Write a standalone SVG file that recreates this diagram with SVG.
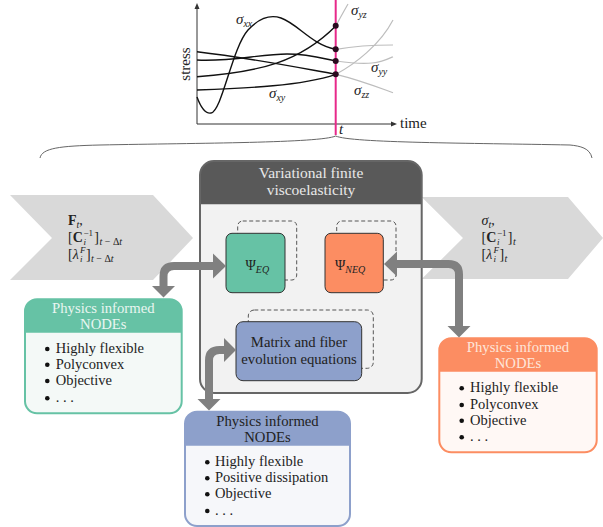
<svg xmlns="http://www.w3.org/2000/svg" width="603" height="527" viewBox="0 0 603 527">
<style>
text{font-family:"Liberation Serif","Times New Roman",serif;fill:#222}
.lbl{font-size:15px}
.sig{font-size:15px;font-style:italic}
.it{font-style:italic}
.sub{font-size:10px}
.ss{font-size:9px}
.hdr{font-size:14.7px;text-anchor:middle}
.bul{font-size:14.5px}
.crv{fill:none;stroke:#111;stroke-width:1.4}
.gry{fill:none;stroke:#bdbdbd;stroke-width:1.2}
.dash{fill:none;stroke:#555;stroke-width:1;stroke-dasharray:4,2.5}
.node{stroke:#333;stroke-width:1}
.arr{fill:none;stroke:#808080;stroke-width:8}
.ah{fill:#808080}
.dot{fill:#2a0a1e}
.math{font-size:14px}
</style>

<g id="plot">
  <line x1="197" y1="124" x2="197" y2="7" stroke="#333" stroke-width="1"/>
  <polygon points="197,3 194.5,9 199.5,9" fill="#333"/>
  <line x1="197" y1="124" x2="393" y2="124" stroke="#333" stroke-width="1"/>
  <polygon points="397,124 391,121.5 391,126.5" fill="#333"/>
  <text class="lbl" x="400" y="128">time</text>
  <text class="lbl" text-anchor="middle" transform="translate(189.5,64) rotate(-90)">stress</text>
  <path class="gry" d="M336,25.7 C340,18 344,11 348,4"/>
  <path class="gry" d="M336,49.3 C355,46 375,45 393,45"/>
  <path class="gry" d="M336,61 C350,63 362,64 372,63 C382,62 388,59 393,56.7"/>
  <path class="gry" d="M336,74.3 C355,64 380,45 393,20"/>
  <path class="gry" d="M336,74.3 C360,80 380,88 393,92.7"/>
  <path class="crv" d="M197,97 C201,108 205,114 211,113 C222,111 232,48 248,30 C260,17 272,15 281,18 C298,24 312,45 336,49.3"/>
  <path class="crv" d="M197,51.7 C250,58 290,66 336,74.3"/>
  <path class="crv" d="M197,60 C230,62 260,54 287,54 C310,54 325,59 336,61"/>
  <path class="crv" d="M197,76.7 C260,72 300,62 336,25.7"/>
  <path class="crv" d="M197,90 C250,88 300,86 336,74.3"/>
  <line x1="335.7" y1="0" x2="335.7" y2="135" stroke="#e7298a" stroke-width="2"/>
  <circle class="dot" cx="335.7" cy="25.7" r="3"/>
  <circle class="dot" cx="335.7" cy="49.3" r="3"/>
  <circle class="dot" cx="335.7" cy="61" r="3"/>
  <circle class="dot" cx="335.7" cy="74.3" r="3"/>
  <text class="sig" x="236" y="24">σ<tspan class="sub" dy="2.5">xx</tspan></text>
  <text class="sig" x="351" y="15">σ<tspan class="sub" dy="2.5">yz</tspan></text>
  <text class="sig" x="371" y="72">σ<tspan class="sub" dy="2.5">yy</tspan></text>
  <text class="sig" x="354" y="95">σ<tspan class="sub" dy="2.5">zz</tspan></text>
  <text class="sig" x="269" y="98">σ<tspan class="sub" dy="2.5">xy</tspan></text>
  <text class="sig" x="339" y="134">t</text>
  <path d="M40,158 C42,148 60,146 100,145 C200,143 320,143 335.7,136 C351,143 470,143 570,145 C580,146 590,148 592,158" fill="none" stroke="#666" stroke-width="1"/>
</g>

<g id="input">
  <polygon points="10,195 153,195 193,238 153,280 10,280 52,238" fill="#d9d9d9"/>
  <text class="math" x="68" y="224.5"><tspan font-weight="bold">F</tspan><tspan class="it sub" dy="3">t</tspan><tspan dy="-3">,</tspan></text>
  <text class="math" x="68" y="241.5">[<tspan font-weight="bold">C</tspan><tspan class="ss" x="83.5" y="236">−1</tspan><tspan class="ss it" x="83.5" y="244.5">i</tspan><tspan x="94.3" y="241.5">]</tspan><tspan class="sub it" x="99.5" y="244.5">t<tspan font-style="normal"> − Δ</tspan>t</tspan></text>
  <text class="math" x="68" y="258.5">[<tspan class="it">λ</tspan><tspan class="ss it" x="80" y="253">F</tspan><tspan class="ss it" x="80" y="261.5">i</tspan><tspan x="86" y="258.5">]</tspan><tspan class="sub it" x="91" y="261.5">t<tspan font-style="normal"> − Δ</tspan>t</tspan></text>
</g>

<g id="output">
  <polygon points="421.7,197 568,197 603,238 568,279 421.7,279 463,238" fill="#d9d9d9"/>
  <text class="math it" x="481.5" y="224.5">σ<tspan class="sub" dy="3">t</tspan><tspan font-style="normal" dy="-3">,</tspan></text>
  <text class="math" x="481.5" y="241.5">[<tspan font-weight="bold">C</tspan><tspan class="ss" x="497" y="236">−1</tspan><tspan class="ss it" x="497" y="244.5">i</tspan><tspan x="507.8" y="241.5">]</tspan><tspan class="sub it" x="513" y="244.5">t</tspan></text>
  <text class="math" x="481.5" y="258.5">[<tspan class="it">λ</tspan><tspan class="ss it" x="493.5" y="253">F</tspan><tspan class="ss it" x="493.5" y="261.5">i</tspan><tspan x="499.5" y="258.5">]</tspan><tspan class="sub it" x="504.5" y="261.5">t</tspan></text>
</g>

<g id="framework">
  <rect x="200" y="161" width="221.7" height="232" rx="14" fill="#f2f2f2"/>
  <path d="M200,204.3 V175 A14,14 0 0 1 214,161 H407.7 A14,14 0 0 1 421.7,175 V204.3 Z" fill="#595959"/>
  <rect x="200" y="161" width="221.7" height="232" rx="14" fill="none" stroke="#666" stroke-width="2"/>
  <text class="hdr" x="311" y="177.5" style="fill:#e8e8e8;font-size:15.5px">Variational finite</text>
  <text class="hdr" x="311" y="194.5" style="fill:#e8e8e8;font-size:15.5px">viscoelasticity</text>
</g>

<g id="psi-eq">
  <rect class="dash" x="237.7" y="221" width="59" height="59" rx="5"/>
  <rect class="node" x="226" y="233.3" width="59" height="59.4" rx="6" fill="#66c2a5"/>
  <text class="math" x="245.5" y="270">Ψ<tspan class="it sub" dy="3">EQ</tspan></text>
</g>

<g id="psi-neq">
  <rect class="dash" x="336.7" y="221" width="59.3" height="59" rx="5"/>
  <rect class="node" x="325" y="233.3" width="58.3" height="59.4" rx="6" fill="#fc8d62"/>
  <text class="math" x="335" y="270">Ψ<tspan class="it sub" dy="3">NEQ</tspan></text>
</g>

<g id="evolution">
  <rect class="dash" x="248.3" y="310" width="125" height="58.3" rx="6"/>
  <rect class="node" x="236" y="321.7" width="125.7" height="59" rx="7" fill="#8da0cb"/>
  <text class="hdr" x="299" y="346.5">Matrix and fiber</text>
  <text class="hdr" x="299" y="363.5">evolution equations</text>
</g>

<g id="node-eq">
  <rect x="25" y="299.3" width="156.7" height="114" rx="12" fill="#f4f9f7"/>
  <path d="M25,332.7 V311.3 A12,12 0 0 1 37,299.3 H169.7 A12,12 0 0 1 181.7,311.3 V332.7 Z" fill="#66c2a5"/>
  <rect x="25" y="299.3" width="156.7" height="114" rx="12" fill="none" stroke="#66c2a5" stroke-width="2"/>
  <text class="hdr" x="103.3" y="313" style="fill:#eaf6f1">Physics informed</text>
  <text class="hdr" x="103.3" y="329" style="fill:#eaf6f1">NODEs</text>
  <circle cx="47.3" cy="349" r="2.3" fill="#111"/>
  <circle cx="47.3" cy="364.7" r="2.3" fill="#111"/>
  <circle cx="47.3" cy="381" r="2.3" fill="#111"/>
  <circle cx="47.3" cy="398.3" r="2.3" fill="#111"/>
  <text class="bul" x="55.7" y="353">Highly flexible</text>
  <text class="bul" x="55.7" y="368.5">Polyconvex</text>
  <text class="bul" x="55.7" y="385">Objective</text>
  <text class="bul" x="55.7" y="401.5">. . .</text>
</g>

<g id="node-evo">
  <rect x="185" y="411.7" width="165" height="115" rx="12" fill="#f6f7fa"/>
  <path d="M185,445.7 V423.7 A12,12 0 0 1 197,411.7 H338 A12,12 0 0 1 350,423.7 V445.7 Z" fill="#8da0cb"/>
  <rect x="185" y="411.7" width="165" height="114.3" rx="12" fill="none" stroke="#8da0cb" stroke-width="2"/>
  <text class="hdr" x="267.5" y="425.5">Physics informed</text>
  <text class="hdr" x="267.5" y="442">NODEs</text>
  <circle cx="207.3" cy="462.3" r="2.3" fill="#111"/>
  <circle cx="207.3" cy="478.3" r="2.3" fill="#111"/>
  <circle cx="207.3" cy="494.3" r="2.3" fill="#111"/>
  <circle cx="207.3" cy="511" r="2.3" fill="#111"/>
  <text class="bul" x="215" y="466">Highly flexible</text>
  <text class="bul" x="215" y="482">Positive dissipation</text>
  <text class="bul" x="215" y="498">Objective</text>
  <text class="bul" x="215" y="514.5">. . .</text>
</g>

<g id="node-neq">
  <rect x="439.3" y="338.3" width="157.4" height="114" rx="12" fill="#fff8f5"/>
  <path d="M439.3,371.7 V350.3 A12,12 0 0 1 451.3,338.3 H584.7 A12,12 0 0 1 596.7,350.3 V371.7 Z" fill="#fc8d62"/>
  <rect x="439.3" y="338.3" width="157.4" height="114" rx="12" fill="none" stroke="#fc8d62" stroke-width="2"/>
  <text class="hdr" x="518" y="352" style="fill:#fee6da">Physics informed</text>
  <text class="hdr" x="518" y="368" style="fill:#fee6da">NODEs</text>
  <circle cx="461.7" cy="388.3" r="2.3" fill="#111"/>
  <circle cx="461.7" cy="405" r="2.3" fill="#111"/>
  <circle cx="461.7" cy="420.7" r="2.3" fill="#111"/>
  <circle cx="461.7" cy="437.3" r="2.3" fill="#111"/>
  <text class="bul" x="470" y="392">Highly flexible</text>
  <text class="bul" x="470" y="408.5">Polyconvex</text>
  <text class="bul" x="470" y="424.5">Objective</text>
  <text class="bul" x="470" y="441">. . .</text>
</g>

<g id="connectors">
  <path class="arr" d="M214,266 L174,266 Q163.5,266 163.5,276.5 L163.5,287"/>
  <polygon class="ah" points="226,266 213,253.5 213,278.5"/>
  <polygon class="ah" points="163.5,297.5 152,286 175,286"/>
  <path class="arr" d="M396,264 L448.5,264 Q459,264 459,274.5 L459,327"/>
  <polygon class="ah" points="384,264 397,251.5 397,276.5"/>
  <polygon class="ah" points="459,337.5 447.5,326 470.5,326"/>
  <path class="arr" d="M225,350 L219.5,350 Q209,350 209,360.5 L209,400"/>
  <polygon class="ah" points="236,350 224,338 224,362"/>
  <polygon class="ah" points="209,410.5 197.5,399 220.5,399"/>
</g>
</svg>
